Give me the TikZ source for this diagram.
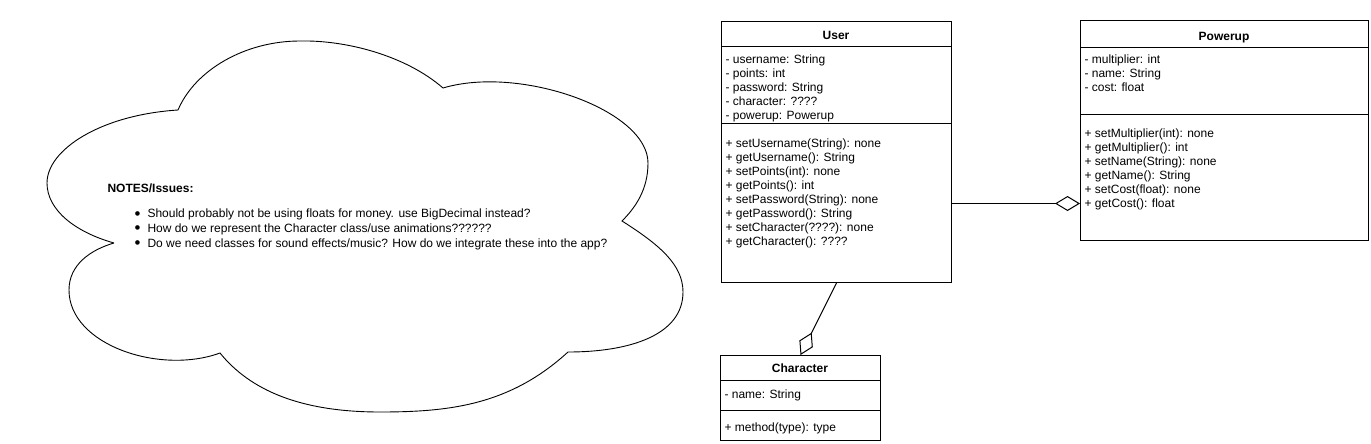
\documentclass[tikz,border=0pt]{standalone}
\usepackage{fontspec}
\setmainfont{Liberation Sans}
\usepackage{tikz}
\usetikzlibrary{arrows.meta, positioning}

\newcommand{\notebullet}{\makebox[13pt][l]{\raisebox{-1.5pt}{\scalebox{1.4}{\textbullet}}}}

\begin{document}
\begin{tikzpicture}[x=1pt, y=-1pt, line width=1pt,
    font=\fontsize{12}{14}\selectfont,
    umlclass/.style={draw=black, fill=white, anchor=north west, inner sep=0pt},
    classname/.style={font=\fontsize{12}{14}\selectfont\bfseries, anchor=base, inner sep=0pt},
    members/.style={align=left, anchor=north west, inner sep=0pt},
    aggr/.style={-{Diamond[open, length=25pt, width=15pt]}}]
    \useasboundingbox (0,0) rectangle (1371,444);

    % --- NOTES CLOUD ---
    \draw[line width=0.9pt] (114,243) .. controls (75,232) and (47,210) .. (47,183)
        .. controls (47,150) and (100,115) .. (178,110)
        .. controls (195,70) and (245,41) .. (300,41)
        .. controls (345,40) and (405,55) .. (443,88)
        .. controls (520,65) and (648,110) .. (648,163)
        .. controls (648,190) and (635,208) .. (622,221)
        .. controls (660,245) and (683,265) .. (683,292)
        .. controls (683,335) and (630,352) .. (568,352)
        .. controls (510,405) and (450,412) .. (380,412)
        .. controls (300,412) and (250,390) .. (220,353)
        .. controls (160,375) and (69,345) .. (69,290)
        .. controls (69,265) and (90,250) .. (114,243);
    \node[anchor=base west, inner sep=0pt, font=\fontsize{12}{14}\selectfont\bfseries] (notes-title) at (107,192.3) {NOTES/Issues:};
    \node[members, font=\fontsize{12}{14.7}\selectfont] (notes) at (134,208.5)
        {\notebullet Should probably not be using floats for money. use BigDecimal instead?\\
         \notebullet How do we represent the Character class/use animations??????\\
         \notebullet Do we need classes for sound effects/music? How do we integrate these into the app?};

    % --- CLASS: User ---
    \node[umlclass, minimum width=230pt, minimum height=261pt] (user) at (721,21) {};
    \draw (721,47) -- (951,47);
    \draw (721,123) -- (951,123);
    \node[classname] (user-title) at (836,39.3) {User};
    \node[members] (user-attr) at (725,54.5)
        {- username: String\\- points: int\\- password: String\\- character: ????\\- powerup: Powerup};
    \node[members] (user-ops) at (725,138.6)
        {+ setUsername(String): none\\+ getUsername(): String\\+ setPoints(int): none\\+ getPoints(): int\\
         + setPassword(String): none\\+ getPassword(): String\\+ setCharacter(????): none\\+ getCharacter(): ????};

    % --- CLASS: Powerup ---
    \node[umlclass, minimum width=288pt, minimum height=220pt] (pw) at (1080,20) {};
    \draw (1080,48) -- (1368,48);
    \draw (1080,114) -- (1368,114);
    \node[classname] (pw-title) at (1224,40.3) {Powerup};
    \node[members] (pw-attr) at (1084,54.5)
        {- multiplier: int\\- name: String\\- cost: float};
    \node[members] (pw-ops) at (1084,128.6)
        {+ setMultiplier(int): none\\+ getMultiplier(): int\\+ setName(String): none\\+ getName(): String\\
         + setCost(float): none\\+ getCost(): float};

    % --- CLASS: Character ---
    \node[umlclass, minimum width=160pt, minimum height=85pt] (char) at (720,355) {};
    \draw (720,380) -- (880,380);
    \draw (720,410) -- (880,410);
    \node[classname] (char-title) at (800,372.3) {Character};
    \node[members] (char-attr) at (724,389.6) {- name: String};
    \node[members] (char-ops) at (724,422.6) {+ method(type): type};

    % --- AGGREGATIONS ---
    \draw[aggr] (user.south) -- (char.north);
    \coordinate (link) at ([yshift=-51.5pt]user.east);
    \draw[aggr] (link) -- (link -| pw.west);

\end{tikzpicture}
\end{document}
